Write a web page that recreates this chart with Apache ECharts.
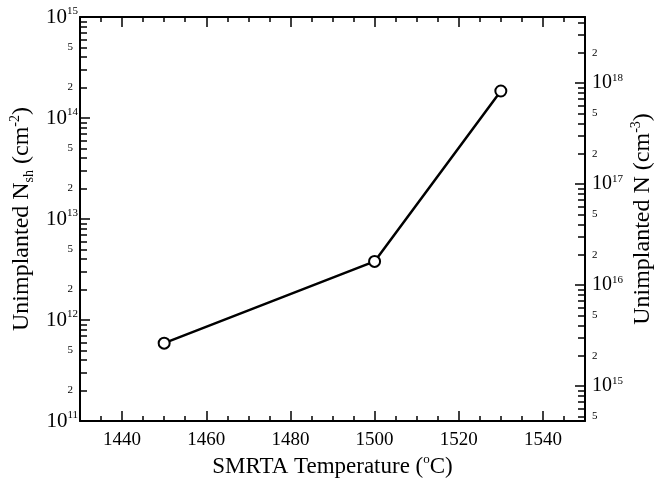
<!DOCTYPE html>
<html>
<head>
<meta charset="utf-8">
<script src="https://cdn.jsdelivr.net/npm/echarts@6/dist/echarts.min.js"></script>
<style>
  html, body { margin: 0; padding: 0; background: #fff; }
  #chart { width: 655px; height: 478px; }
</style>
</head>
<body>
<div id="chart"></div>
<script>
  // data
  var temps = [1450, 1500, 1530]
  var sheetDensity = [5.9e11, 3.8e12, 1.85e14]

  // axis ranges / ticks
  var xMin = 1430
  var xMax = 1550
  var xLabelTicks = [1440, 1460, 1480, 1500, 1520, 1540]
  var xMinorStep = 5
  var leftMin = 11   // log10 of cm^-2 range
  var leftMax = 15
  var densityShift = 3.655 // log10 of N(cm^-3) / N_sh(cm^-2)
  var labelMantissas = [1, 2, 5]
  var minorMantissas = [2, 3, 4, 5, 6, 7, 8, 9]

  var font = 'Liberation Serif'
  var rightMin = leftMin + densityShift
  var rightMax = leftMax + densityShift

  function logValues(min, max, mantissas) {
    var out = []
    for (var e = Math.floor(min); e <= Math.ceil(max); e++) {
      mantissas.forEach(function (m) {
        var v = e + Math.log10(m)
        if (v >= min - 1e-9 && v <= max + 1e-9) out.push(v)
      })
    }
    return out
  }

  var xMinorTicks = []
  for (var t = xMin + xMinorStep; t < xMax; t += xMinorStep) xMinorTicks.push(t)

  function logLabel(v) {
    var e = Math.floor(v + 1e-6)
    var m = Math.round(Math.pow(10, v - e))
    if (m === 1) return '{b|10}{s|' + e + '}'
    return '{m|' + m + '}'
  }

  function labelRich(base, mPad) {
    return {
      b: { fontSize: base, fontFamily: font, color: '#000', lineHeight: base + 1 },
      s: { fontSize: 11, fontFamily: font, color: '#000', verticalAlign: 'top', lineHeight: 11 },
      m: { fontSize: 11, fontFamily: font, color: '#000', padding: mPad }
    }
  }
  function titleStyle(size) {
    var small = Math.round(size * 0.58)
    return {
      fontSize: size, fontFamily: font, color: '#000', lineHeight: size + 4,
      rich: {
        sup: { fontSize: small, fontFamily: font, color: '#000', verticalAlign: 'top', lineHeight: small },
        sub: { fontSize: small, fontFamily: font, color: '#000', verticalAlign: 'bottom', lineHeight: small }
      }
    }
  }
  var line = { show: true, lineStyle: { color: '#000', width: 2 } }

  function xAxisPair(position, withLabels) {
    var major = {
      type: 'value', position: position, min: xMin, max: xMax,
      axisLine: line, splitLine: { show: false },
      axisTick: { show: true, inside: true, length: 10, customValues: xLabelTicks, lineStyle: { color: '#000', width: 1.5 } },
      axisLabel: {
        show: withLabels, customValues: xLabelTicks, margin: 10, fontSize: 19, fontFamily: font, color: '#000',
        formatter: function (v) { return String(v) }
      }
    }
    if (withLabels) {
      major.name = 'SMRTA Temperature ({sup|o}C)'
      major.nameLocation = 'middle'
      major.nameGap = 32
      major.nameMoveOverlap = false
      major.nameTextStyle = titleStyle(23)
    }
    var minor = {
      type: 'value', position: position, min: xMin, max: xMax,
      axisLine: { show: false }, splitLine: { show: false }, axisLabel: { show: false },
      axisTick: { show: true, inside: true, length: 5, customValues: xMinorTicks, lineStyle: { color: '#000', width: 1.5 } }
    }
    return [major, minor]
  }

  function yAxisPair(position, min, max, name, nameGap, labelMargin, rich) {
    var major = {
      type: 'value', position: position, min: min, max: max,
      axisLine: line, splitLine: { show: false },
      axisTick: { show: true, inside: true, length: 10, customValues: logValues(min, max, [1]), lineStyle: { color: '#000', width: 1.5 } },
      axisLabel: {
        customValues: logValues(min, max, labelMantissas), margin: labelMargin,
        formatter: logLabel, rich: rich, color: '#000'
      },
      name: name, nameLocation: 'middle', nameGap: nameGap, nameRotate: 90,
      nameMoveOverlap: false,
      nameTextStyle: titleStyle(24)
    }
    var minor = {
      type: 'value', position: position, min: min, max: max,
      axisLine: { show: false }, splitLine: { show: false }, axisLabel: { show: false },
      axisTick: { show: true, inside: true, length: 7, customValues: logValues(min, max, minorMantissas), lineStyle: { color: '#000', width: 1.5 } }
    }
    return [major, minor]
  }

  var seriesData = temps.map(function (t, i) {
    return [t, Math.log10(sheetDensity[i])]
  })

  var chart = echarts.init(document.getElementById('chart'))
  chart.setOption({
    animation: false,
    backgroundColor: '#fff',
    grid: { left: 80, right: 70, top: 17, bottom: 57, containLabel: false, outerBoundsMode: 'none' },
    xAxis: xAxisPair('bottom', true).concat(xAxisPair('top', false)),
    yAxis: yAxisPair('left', leftMin, leftMax, 'Unimplanted N{sub|sh} (cm{sup|-2})', 44, 2, labelRich(21, [0, 5, 0, 0]))
      .concat(yAxisPair('right', rightMin, rightMax, 'Unimplanted N (cm{sup|-3})', 44, 7, labelRich(20, 0))),
    series: [{
      type: 'line',
      xAxisIndex: 0,
      yAxisIndex: 0,
      data: seriesData,
      symbol: 'circle',
      symbolSize: 11,
      showSymbol: true,
      itemStyle: { color: '#fff', borderColor: '#000', borderWidth: 2 },
      lineStyle: { color: '#000', width: 2.5 }
    }]
  })
</script>
</body>
</html>
